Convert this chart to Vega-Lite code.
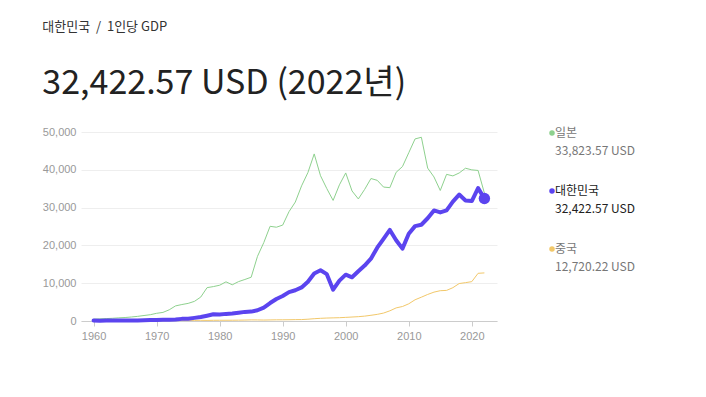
{
  "$schema": "https://vega.github.io/schema/vega-lite/v6.json",
  "width": 416,
  "height": 189,
  "padding": {"left": 42, "top": 21, "right": 5, "bottom": 5},
  "background": "#ffffff",
  "config": {"view": {"stroke": null}},
  "title": {
    "text": "대한민국 \u00a0/\u00a0 1인당 GDP",
    "subtitle": "32,422.57 USD (2022년)",
    "anchor": "start",
    "frame": "bounds",
    "font": "Noto Sans CJK KR",
    "fontSize": 13,
    "fontWeight": "normal",
    "color": "#333333",
    "subtitleFont": "Noto Sans CJK KR",
    "subtitleFontSize": 34,
    "subtitleFontWeight": "normal",
    "subtitleColor": "#222222",
    "subtitlePadding": 33,
    "offset": 25
  },
  "data": {"values": [
    {"year":1960,"country":"일본","gdp":475},{"year":1961,"country":"일본","gdp":564},{"year":1962,"country":"일본","gdp":634},{"year":1963,"country":"일본","gdp":718},{"year":1964,"country":"일본","gdp":835},{"year":1965,"country":"일본","gdp":919},{"year":1966,"country":"일본","gdp":1059},{"year":1967,"country":"일본","gdp":1229},{"year":1968,"country":"일본","gdp":1451},{"year":1969,"country":"일본","gdp":1669},
    {"year":1970,"country":"일본","gdp":2037},{"year":1971,"country":"일본","gdp":2272},{"year":1972,"country":"일본","gdp":2967},{"year":1973,"country":"일본","gdp":3997},{"year":1974,"country":"일본","gdp":4354},{"year":1975,"country":"일본","gdp":4659},{"year":1976,"country":"일본","gdp":5197},{"year":1977,"country":"일본","gdp":6335},{"year":1978,"country":"일본","gdp":8821},{"year":1979,"country":"일본","gdp":9105},
    {"year":1980,"country":"일본","gdp":9463},{"year":1981,"country":"일본","gdp":10361},{"year":1982,"country":"일본","gdp":9578},{"year":1983,"country":"일본","gdp":10425},{"year":1984,"country":"일본","gdp":10984},{"year":1985,"country":"일본","gdp":11585},{"year":1986,"country":"일본","gdp":17112},{"year":1987,"country":"일본","gdp":20745},{"year":1988,"country":"일본","gdp":25051},{"year":1989,"country":"일본","gdp":24813},
    {"year":1990,"country":"일본","gdp":25371},{"year":1991,"country":"일본","gdp":28925},{"year":1992,"country":"일본","gdp":31464},{"year":1993,"country":"일본","gdp":35766},{"year":1994,"country":"일본","gdp":39269},{"year":1995,"country":"일본","gdp":44198},{"year":1996,"country":"일본","gdp":38437},{"year":1997,"country":"일본","gdp":35022},{"year":1998,"country":"일본","gdp":31903},{"year":1999,"country":"일본","gdp":36027},
    {"year":2000,"country":"일본","gdp":39169},{"year":2001,"country":"일본","gdp":34406},{"year":2002,"country":"일본","gdp":32289},{"year":2003,"country":"일본","gdp":34808},{"year":2004,"country":"일본","gdp":37688},{"year":2005,"country":"일본","gdp":37218},{"year":2006,"country":"일본","gdp":35434},{"year":2007,"country":"일본","gdp":35275},{"year":2008,"country":"일본","gdp":39339},{"year":2009,"country":"일본","gdp":40855},
    {"year":2010,"country":"일본","gdp":44508},{"year":2011,"country":"일본","gdp":48168},{"year":2012,"country":"일본","gdp":48603},{"year":2013,"country":"일본","gdp":40454},{"year":2014,"country":"일본","gdp":38109},{"year":2015,"country":"일본","gdp":34524},{"year":2016,"country":"일본","gdp":38794},{"year":2017,"country":"일본","gdp":38387},{"year":2018,"country":"일본","gdp":39159},{"year":2019,"country":"일본","gdp":40416},
    {"year":2020,"country":"일본","gdp":39986},{"year":2021,"country":"일본","gdp":39827},{"year":2022,"country":"일본","gdp":33824},
    {"year":1960,"country":"대한민국","gdp":158},{"year":1961,"country":"대한민국","gdp":94},{"year":1962,"country":"대한민국","gdp":106},{"year":1963,"country":"대한민국","gdp":146},{"year":1964,"country":"대한민국","gdp":124},{"year":1965,"country":"대한민국","gdp":109},{"year":1966,"country":"대한민국","gdp":133},{"year":1967,"country":"대한민국","gdp":161},{"year":1968,"country":"대한민국","gdp":199},{"year":1969,"country":"대한민국","gdp":243},
    {"year":1970,"country":"대한민국","gdp":279},{"year":1971,"country":"대한민국","gdp":301},{"year":1972,"country":"대한민국","gdp":324},{"year":1973,"country":"대한민국","gdp":407},{"year":1974,"country":"대한민국","gdp":563},{"year":1975,"country":"대한민국","gdp":616},{"year":1976,"country":"대한민국","gdp":831},{"year":1977,"country":"대한민국","gdp":1051},{"year":1978,"country":"대한민국","gdp":1405},{"year":1979,"country":"대한민국","gdp":1783},
    {"year":1980,"country":"대한민국","gdp":1715},{"year":1981,"country":"대한민국","gdp":1883},{"year":1982,"country":"대한민국","gdp":1993},{"year":1983,"country":"대한민국","gdp":2199},{"year":1984,"country":"대한민국","gdp":2413},{"year":1985,"country":"대한민국","gdp":2482},{"year":1986,"country":"대한민국","gdp":2835},{"year":1987,"country":"대한민국","gdp":3555},{"year":1988,"country":"대한민국","gdp":4749},{"year":1989,"country":"대한민국","gdp":5817},
    {"year":1990,"country":"대한민국","gdp":6610},{"year":1991,"country":"대한민국","gdp":7637},{"year":1992,"country":"대한민국","gdp":8127},{"year":1993,"country":"대한민국","gdp":8885},{"year":1994,"country":"대한민국","gdp":10385},{"year":1995,"country":"대한민국","gdp":12565},{"year":1996,"country":"대한민국","gdp":13403},{"year":1997,"country":"대한민국","gdp":12398},{"year":1998,"country":"대한민국","gdp":8282},{"year":1999,"country":"대한민국","gdp":10672},
    {"year":2000,"country":"대한민국","gdp":12257},{"year":2001,"country":"대한민국","gdp":11561},{"year":2002,"country":"대한민국","gdp":13165},{"year":2003,"country":"대한민국","gdp":14673},{"year":2004,"country":"대한민국","gdp":16496},{"year":2005,"country":"대한민국","gdp":19403},{"year":2006,"country":"대한민국","gdp":21743},{"year":2007,"country":"대한민국","gdp":24086},{"year":2008,"country":"대한민국","gdp":21350},{"year":2009,"country":"대한민국","gdp":19144},
    {"year":2010,"country":"대한민국","gdp":23077},{"year":2011,"country":"대한민국","gdp":25096},{"year":2012,"country":"대한민국","gdp":25467},{"year":2013,"country":"대한민국","gdp":27182},{"year":2014,"country":"대한민국","gdp":29250},{"year":2015,"country":"대한민국","gdp":28737},{"year":2016,"country":"대한민국","gdp":29274},{"year":2017,"country":"대한민국","gdp":31601},{"year":2018,"country":"대한민국","gdp":33447},{"year":2019,"country":"대한민국","gdp":31902},
    {"year":2020,"country":"대한민국","gdp":31721},{"year":2021,"country":"대한민국","gdp":35142},{"year":2022,"country":"대한민국","gdp":32423},
    {"year":1960,"country":"중국","gdp":90},{"year":1961,"country":"중국","gdp":76},{"year":1962,"country":"중국","gdp":70},{"year":1963,"country":"중국","gdp":74},{"year":1964,"country":"중국","gdp":85},{"year":1965,"country":"중국","gdp":98},{"year":1966,"country":"중국","gdp":104},{"year":1967,"country":"중국","gdp":96},{"year":1968,"country":"중국","gdp":91},{"year":1969,"country":"중국","gdp":100},
    {"year":1970,"country":"중국","gdp":113},{"year":1971,"country":"중국","gdp":119},{"year":1972,"country":"중국","gdp":132},{"year":1973,"country":"중국","gdp":157},{"year":1974,"country":"중국","gdp":160},{"year":1975,"country":"중국","gdp":178},{"year":1976,"country":"중국","gdp":165},{"year":1977,"country":"중국","gdp":185},{"year":1978,"country":"중국","gdp":156},{"year":1979,"country":"중국","gdp":183},
    {"year":1980,"country":"중국","gdp":195},{"year":1981,"country":"중국","gdp":197},{"year":1982,"country":"중국","gdp":203},{"year":1983,"country":"중국","gdp":225},{"year":1984,"country":"중국","gdp":250},{"year":1985,"country":"중국","gdp":294},{"year":1986,"country":"중국","gdp":282},{"year":1987,"country":"중국","gdp":252},{"year":1988,"country":"중국","gdp":284},{"year":1989,"country":"중국","gdp":311},
    {"year":1990,"country":"중국","gdp":318},{"year":1991,"country":"중국","gdp":333},{"year":1992,"country":"중국","gdp":366},{"year":1993,"country":"중국","gdp":377},{"year":1994,"country":"중국","gdp":473},{"year":1995,"country":"중국","gdp":610},{"year":1996,"country":"중국","gdp":709},{"year":1997,"country":"중국","gdp":782},{"year":1998,"country":"중국","gdp":829},{"year":1999,"country":"중국","gdp":873},
    {"year":2000,"country":"중국","gdp":959},{"year":2001,"country":"중국","gdp":1053},{"year":2002,"country":"중국","gdp":1149},{"year":2003,"country":"중국","gdp":1289},{"year":2004,"country":"중국","gdp":1509},{"year":2005,"country":"중국","gdp":1753},{"year":2006,"country":"중국","gdp":2099},{"year":2007,"country":"중국","gdp":2694},{"year":2008,"country":"중국","gdp":3468},{"year":2009,"country":"중국","gdp":3832},
    {"year":2010,"country":"중국","gdp":4550},{"year":2011,"country":"중국","gdp":5614},{"year":2012,"country":"중국","gdp":6301},{"year":2013,"country":"중국","gdp":7020},{"year":2014,"country":"중국","gdp":7636},{"year":2015,"country":"중국","gdp":8016},{"year":2016,"country":"중국","gdp":8094},{"year":2017,"country":"중국","gdp":8817},{"year":2018,"country":"중국","gdp":9905},{"year":2019,"country":"중국","gdp":10144},
    {"year":2020,"country":"중국","gdp":10409},{"year":2021,"country":"중국","gdp":12618},{"year":2022,"country":"중국","gdp":12720}
  ]},
  "encoding": {
    "x": {
      "field": "year", "type": "quantitative",
      "scale": {"domain": [1958, 2024], "nice": false, "zero": false},
      "axis": {
        "title": null, "format": "d", "values": [1960, 1970, 1980, 1990, 2000, 2010, 2020],
        "grid": false, "domainColor": "#cccccc", "tickColor": "#cccccc", "tickSize": 5,
        "labelColor": "#999999", "labelFont": "Liberation Sans", "labelFontSize": 11, "labelPadding": 4
      }
    },
    "y": {
      "field": "gdp", "type": "quantitative",
      "scale": {"domain": [0, 50000], "nice": false},
      "axis": {
        "title": null, "values": [0, 10000, 20000, 30000, 40000, 50000], "format": ",d",
        "domain": false, "ticks": false, "gridColor": "#eeeeee",
        "labelColor": "#999999", "labelFont": "Liberation Sans", "labelFontSize": 11, "labelPadding": 5
      }
    },
    "color": {
      "field": "country", "type": "nominal",
      "scale": {"domain": ["일본", "대한민국", "중국"], "range": ["#8ed18e", "#5b44ef", "#f2c86a"]},
      "legend": {
        "orient": "none", "legendX": 465, "legendY": -5,
        "title": null, "symbolType": "circle", "symbolSize": 30, "symbolStrokeWidth": 0,
        "labelFont": "Noto Sans CJK KR", "labelFontSize": 12, "labelColor": "#777777",
        "labelBaseline": "top", "labelOffset": -3, "labelLimit": 200, "rowPadding": 28,
        "labelExpr": "[datum.label, datum.label == '일본' ? '33,823.57 USD' : (datum.label == '대한민국' ? '32,422.57 USD' : '12,720.22 USD')]",
        "encode": {"labels": {"update": {"fill": {"signal": "datum.value == '대한민국' ? '#222222' : '#777777'"}, "lineHeight": {"value": 18}, "dy": {"value": -5}}}}
      }
    }
  },
  "layer": [
    {
      "transform": [{"filter": "datum.country != '대한민국'"}],
      "mark": {"type": "line", "strokeWidth": 1}
    },
    {
      "transform": [{"filter": "datum.country == '대한민국'"}],
      "mark": {"type": "line", "strokeWidth": 4, "strokeJoin": "round", "strokeCap": "round"}
    },
    {
      "transform": [{"filter": "datum.country == '대한민국' && datum.year == 2022"}],
      "mark": {"type": "circle", "size": 130, "opacity": 1}
    }
  ]
}
